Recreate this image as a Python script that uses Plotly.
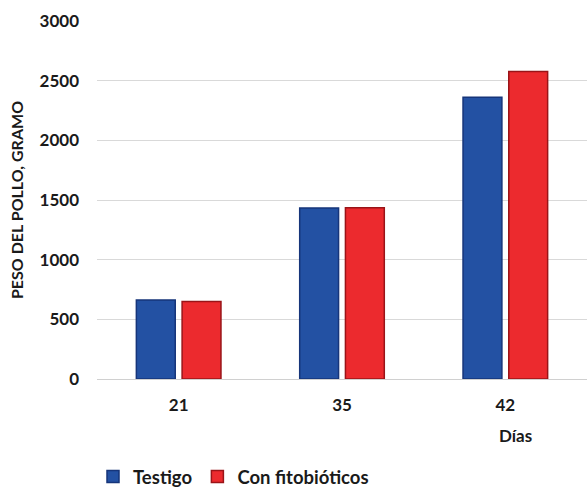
import plotly.graph_objects as go

categories = ["21", "35", "42"]
testigo = [663, 1432, 2361]
fitobioticos = [649, 1436, 2576]
series_names = ["Testigo", "Con fitobióticos"]
y_ticks = [0, 500, 1000, 1500, 2000, 2500, 3000]

W, H = 587, 492
font_family = "Lato, Open Sans, sans-serif"
txt = "#1a1a1a"

fig = go.Figure()
fig.add_trace(go.Bar(
    x=categories, y=testigo, name=series_names[0],
    marker=dict(color="#2351A3", line=dict(color="#16357A", width=1.5)),
))
fig.add_trace(go.Bar(
    x=categories, y=fitobioticos, name=series_names[1],
    marker=dict(color="#EC2A2E", line=dict(color="#9A1418", width=1.5)),
))

fig.update_layout(
    width=W, height=H,
    margin=dict(l=97, r=0, t=21, b=113),
    paper_bgcolor="white", plot_bgcolor="white",
    barmode="group", bargap=0.44, bargroupgap=0.15,
    font=dict(family=font_family, size=17, color=txt),
    showlegend=True,
    legend=dict(
        orientation="h", xref="container", yref="container",
        x=93 / W, y=1 - 477 / H, xanchor="left", yanchor="middle",
        font=dict(family=font_family, size=18.5, color=txt, weight="bold"),
        itemwidth=30, traceorder="normal",
    ),
    xaxis=dict(
        showgrid=False, showline=True, linecolor="#d0d0d0", linewidth=1,
        ticks="", ticklabelstandoff=11,
        tickfont=dict(family=font_family, size=17, weight="bold", color=txt),
    ),
    yaxis=dict(
        range=[0, 3000], tickvals=y_ticks, showgrid=True, gridcolor="#d9d9d9",
        gridwidth=1, zeroline=False, showline=False, ticks="", ticklabelstandoff=17,
        tickfont=dict(family=font_family, size=17, weight="bold", color=txt),
        title=dict(text="PESO DEL POLLO, GRAMO", standoff=11,
                   font=dict(family=font_family, size=16, weight="bold", color=txt)),
    ),
)

fig.add_annotation(
    text="Días", xref="paper", yref="paper", x=(515 - 97) / (W - 97),
    y=-(435 - 379) / (379 - 21), xanchor="center", yanchor="middle", showarrow=False,
    font=dict(family=font_family, size=17, weight="bold", color=txt),
)

fig.write_html("out.html")
